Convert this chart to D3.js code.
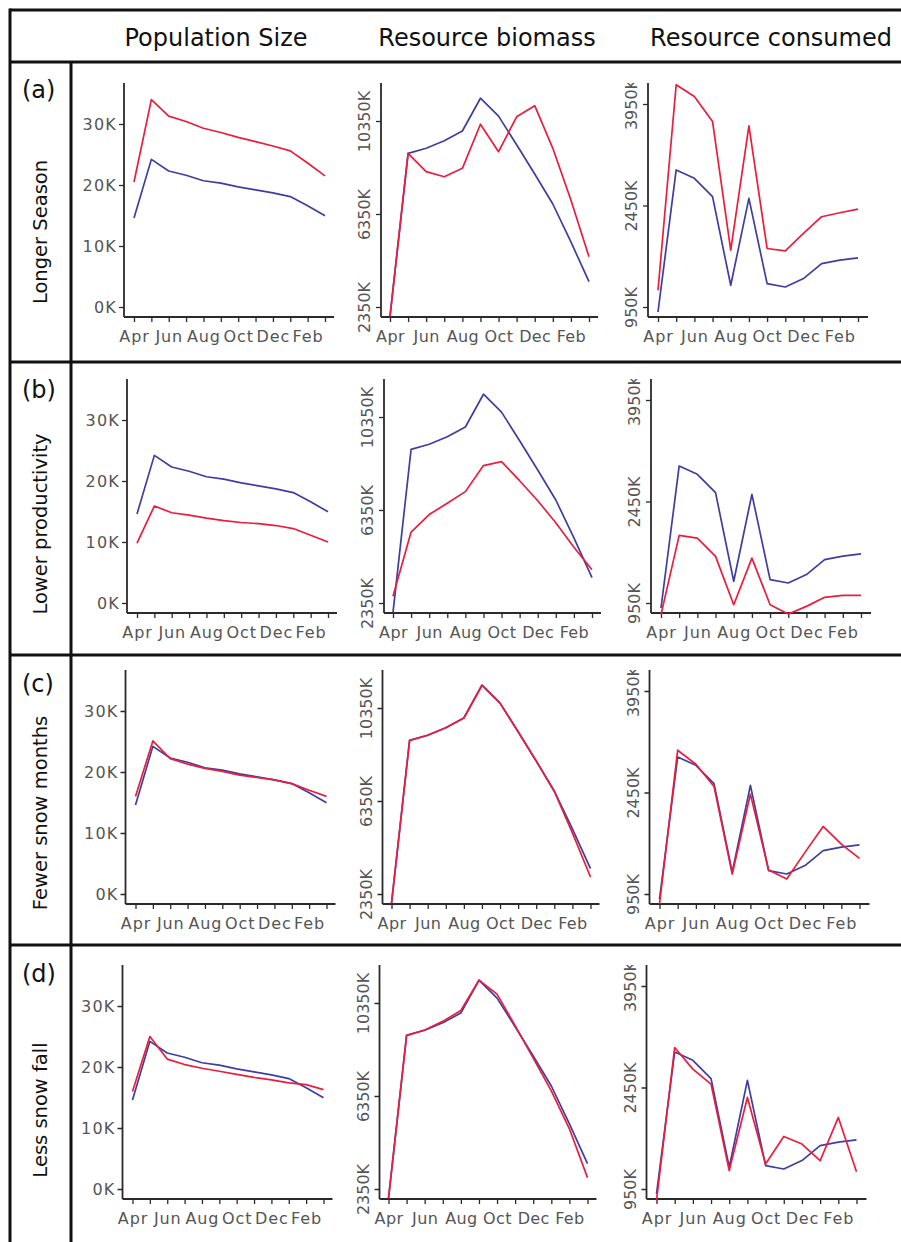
<!DOCTYPE html>
<html><head><meta charset="utf-8">
<script src="https://cdn.jsdelivr.net/npm/d3@7"></script>
<style>
body{margin:0;background:#fff}
svg{display:block}
text{font-family:"DejaVu Sans",Verdana,sans-serif}
</style>
</head><body>
<svg id="chart" width="901" height="1242"></svg>
<script>
// ---------- data ----------
const months = ["Apr","May","Jun","Jul","Aug","Sep","Oct","Nov","Dec","Jan","Feb","Mar"];
const monthLabels = ["Apr","","Jun","","Aug","","Oct","","Dec","","Feb",""];
const columnTitles = ["Population Size","Resource biomass","Resource consumed"];
const rowTags = ["(a)","(b)","(c)","(d)"];
const rowNames = ["Longer Season","Lower productivity","Fewer snow months","Less snow fall"];

const popTicks = [0,10000,20000,30000];
const bioTicks = [2350000,6350000,10350000];
const conTicks = [950000,2450000,3950000];

// Population size (blue = baseline, red = scenario)
const popBaseline     = [14600,24200,22300,21600,20700,20300,19700,19200,18700,18100,16600,14950];
const popLongerSeason = [20500,34000,31300,30400,29300,28600,27800,27100,26400,25600,23600,21500];
const popLowerProd    = [9800,15900,14800,14400,13900,13500,13200,13000,12700,12200,11100,10000];
const popFewerSnow    = [16000,25100,22200,21300,20600,20100,19500,19100,18700,18100,17000,16000];
const popLessSnow     = [16000,25000,21300,20400,19800,19300,18800,18300,17900,17400,17100,16300];

// Resource biomass
const bioBaseline     = [1950000,8960000,9180000,9500000,9920000,11330000,10560000,9330000,8070000,6780000,5150000,3440000];
const bioLongerSeason = [1950000,8960000,8170000,7950000,8315000,10210000,9030000,10530000,11010000,9175000,6950000,4510000];
const bioLowerProd    = [2640000,5400000,6155000,6640000,7140000,8260000,8430000,7610000,6750000,5800000,4750000,3780000];
const bioFewerSnow    = [1950000,8960000,9180000,9500000,9920000,11330000,10560000,9330000,8070000,6760000,4980000,3080000];
const bioLessSnow     = [1950000,8960000,9190000,9560000,10030000,11330000,10730000,9380000,7980000,6570000,4940000,2840000];

// Resource consumed
const conBaseline     = [876000,2975000,2852000,2580000,1271000,2556000,1296000,1246000,1370000,1592000,1642000,1676000];
const conLongerSeason = [1197000,4235000,4062000,3692000,1790000,3627000,1815000,1780000,2037000,2284000,2343000,2397000];
const conLowerProd    = [778000,1949000,1909000,1639000,925000,1614000,925000,787000,900000,1034000,1063000,1063000];
const conFewerSnow    = [802000,3075000,2868000,2539000,1245000,2426000,1304000,1171000,1565000,1949000,1688000,1476000];
const conLessSnow     = [778000,3041000,2721000,2500000,1221000,2303000,1319000,1727000,1614000,1368000,2008000,1206000];

// ---------- layout ----------
const svg = d3.select("#chart");
const RED = "#ec1c3c", BLUE = "#3e3ea2";
const AXIS = "#2a2a2a", LABEL = "#555";
const rowOff = [0,296,587,882];
const rowShift = [0,3,1.5,-1.5];
const rowLines = [62,362,655,945];
const tagBase = [98,398,692,982];
const nameCenter = [232,524,813,1110];

const cols = [
  {ticks:popTicks, topTick:124, axisX:124, x0:134, x1:325, xEnd:334, rot:false,
   base:popBaseline, scen:[popLongerSeason,popLowerProd,popFewerSnow,popLessSnow]},
  {ticks:bioTicks, topTick:121, axisX:381, x0:390, x1:589, xEnd:598, rot:true,
   base:bioBaseline, scen:[bioLongerSeason,bioLowerProd,bioFewerSnow,bioLessSnow]},
  {ticks:conTicks, topTick:104, axisX:648, x0:658, x1:858, xEnd:868, rot:true,
   base:conBaseline, scen:[conLongerSeason,conLowerProd,conFewerSnow,conLessSnow]}
];
const fmtK = d => Math.round(d/1000) + "K";

// ---------- frame ----------
const frame = svg.append("g").attr("stroke","#111").attr("stroke-width",3);
frame.append("line").attr("x1",10).attr("x2",901).attr("y1",10).attr("y2",10);
frame.append("line").attr("x1",10).attr("x2",10).attr("y1",8.5).attr("y2",1242);
rowLines.forEach(y => frame.append("line").attr("x1",10).attr("x2",901).attr("y1",y).attr("y2",y));
frame.append("line").attr("x1",71).attr("x2",71).attr("y1",rowLines[0]).attr("y2",1242);

// header
const titleX = [216,487,771];
columnTitles.forEach((t,i) => svg.append("text").attr("x",titleX[i]).attr("y",46)
  .attr("text-anchor","middle").attr("font-size",24).attr("fill","#111").text(t));

// row labels
rowTags.forEach((t,r) => svg.append("text").attr("x",22).attr("y",tagBase[r])
  .attr("font-size",24).attr("fill","#111").text(t));
rowNames.forEach((t,r) => svg.append("text")
  .attr("transform",`translate(47,${nameCenter[r]}) rotate(-90)`)
  .attr("text-anchor","middle").attr("font-size",19.5).attr("fill","#111").text(t));

const defs = svg.append("defs");

// ---------- panels ----------
rowOff.forEach((off,r) => {
  cols.forEach((c,ci) => {
    const sh = rowShift[r];
    const axisTop = 83 + off, axisBottom = 317 + off;
    const ax = c.axisX + sh;
    const x = d3.scalePoint().domain(months).range([c.x0 + sh, c.x1 + sh]);
    const y = d3.scaleLinear().domain([c.ticks[0], c.ticks[c.ticks.length-1]])
      .range([307 + off, c.topTick + off]);

    const cid = `clip-${r}-${ci}`;
    defs.append("clipPath").attr("id",cid).append("rect")
      .attr("x",ax-90).attr("y",axisTop).attr("width",400).attr("height",300);

    const g = svg.append("g");

    // y axis (wrapped so clip is in page coordinates)
    const ywrap = g.append("g").attr("clip-path",`url(#${cid})`);
    const yg = ywrap.append("g").attr("transform",`translate(${ax},0)`)
      .call(d3.axisLeft(y).tickValues(c.ticks).tickFormat(fmtK).tickSize(5));
    yg.select(".domain").remove();
    yg.selectAll(".tick line").attr("stroke",AXIS).attr("stroke-width",1.3);
    yg.selectAll(".tick text").attr("font-size",16).attr("font-family","DejaVu Sans, sans-serif")
      .attr("fill",LABEL);
    if (c.rot) {
      yg.selectAll(".tick text").attr("transform","rotate(-90)").attr("x",0).attr("y",-11)
        .attr("dy","0").attr("text-anchor","middle");
    } else {
      yg.selectAll(".tick text").attr("x",-7).attr("letter-spacing",1.2);
    }

    // x axis
    const xg = g.append("g").attr("transform",`translate(0,${axisBottom})`)
      .call(d3.axisBottom(x).tickSize(5).tickFormat((d,i) => monthLabels[i]));
    xg.select(".domain").remove();
    xg.selectAll(".tick line").attr("stroke",AXIS).attr("stroke-width",1.3);
    xg.selectAll(".tick text").attr("font-size",16).attr("font-family","DejaVu Sans, sans-serif")
      .attr("fill",LABEL).attr("y",14).attr("letter-spacing",ci === 1 ? 0.4 : 0.9);

    // axis lines
    g.append("line").attr("x1",ax).attr("x2",ax).attr("y1",axisTop).attr("y2",axisBottom)
      .attr("stroke",AXIS).attr("stroke-width",1.8);
    g.append("line").attr("x1",ax).attr("x2",c.xEnd + sh).attr("y1",axisBottom).attr("y2",axisBottom)
      .attr("stroke",AXIS).attr("stroke-width",1.8);

    // series
    const line = d3.line().x((d,i) => x(months[i])).y(d => y(d));
    g.append("path").datum(c.base).attr("d",line).attr("fill","none")
      .attr("stroke",BLUE).attr("stroke-width",1.7).attr("stroke-linejoin","round");
    g.append("path").datum(c.scen[r]).attr("d",line).attr("fill","none")
      .attr("stroke",RED).attr("stroke-width",1.7).attr("stroke-linejoin","round");
  });
});
</script>
</body></html>
